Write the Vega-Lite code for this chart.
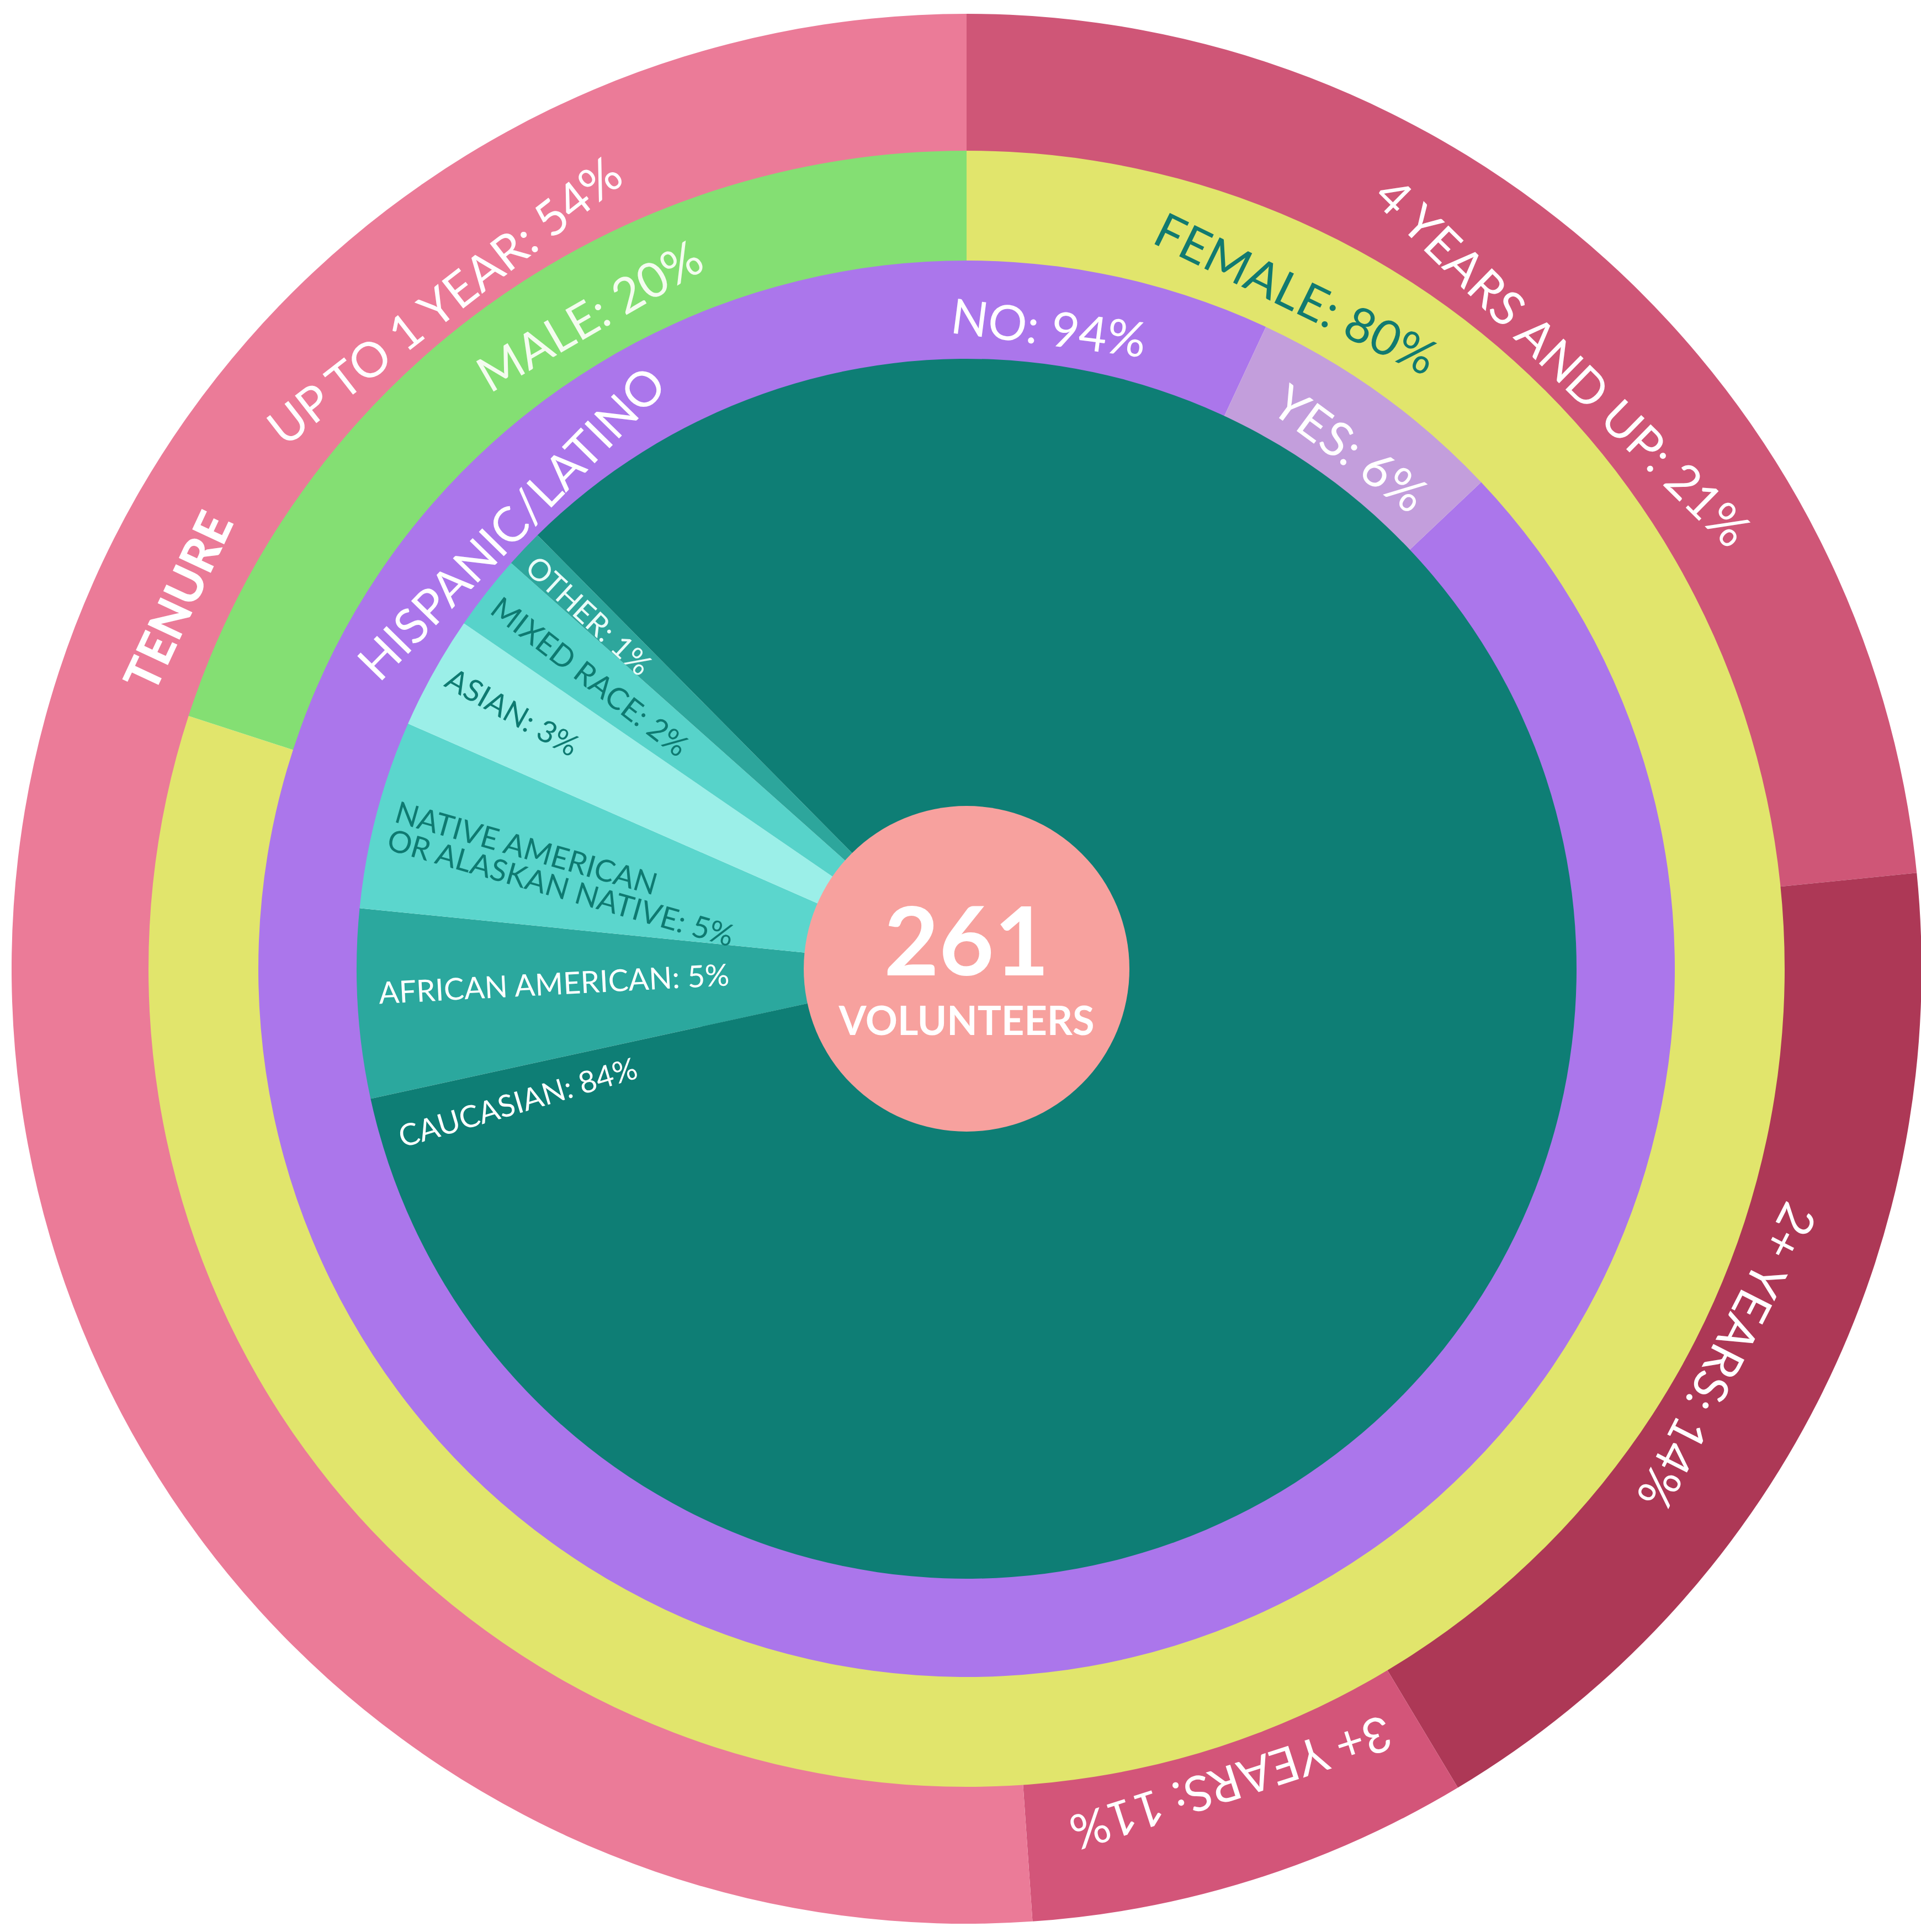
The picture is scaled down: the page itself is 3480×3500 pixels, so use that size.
{
  "$schema": "https://vega.github.io/schema/vega-lite/v6.json",
  "width": 3480,
  "height": 3500,
  "autosize": {"type": "fit", "contains": "padding"},
  "padding": {"left": 22, "top": 10, "right": 0, "bottom": 0},
  "background": "white",
  "config": {
    "view": {"stroke": null},
    "text": {"font": "Lato", "fontSize": 88, "fill": "white", "baseline": "middle", "align": "center"}
  },
  "datasets": {
    "tenure": [
      {"tenure": "4 YEARS AND UP", "pct": 21, "arc_share": 23.4, "seq": 1, "label": "4 YEARS AND UP: 21%"},
      {"tenure": "2+ YEARS", "pct": 14, "arc_share": 18.0, "seq": 2, "label": "2+ YEARS: 14%"},
      {"tenure": "3+ YEARS", "pct": 11, "arc_share": 7.5, "seq": 3, "label": "3+ YEARS: 11%"},
      {"tenure": "UP TO 1 YEAR", "pct": 54, "arc_share": 51.1, "seq": 4, "label": "UP TO 1 YEAR: 54%"}
    ],
    "gender": [
      {"gender": "FEMALE", "pct": 80, "seq": 1, "label": "FEMALE: 80%"},
      {"gender": "MALE", "pct": 20, "seq": 2, "label": "MALE: 20%"}
    ],
    "hispanic": [
      {"answer": "NO", "pct": 94, "seq": 1, "label": "NO: 94%"},
      {"answer": "YES", "pct": 6, "seq": 2, "label": "YES: 6%"}
    ],
    "race": [
      {"race": "AFRICAN AMERICAN", "pct": 5, "seq": 1, "label": "AFRICAN AMERICAN: 5%"},
      {"race": "NATIVE AMERICAN OR ALASKAN NATIVE", "pct": 5, "seq": 2, "label": "NATIVE AMERICAN\nOR ALASKAN NATIVE: 5%"},
      {"race": "ASIAN", "pct": 3, "seq": 3, "label": "ASIAN: 3%"},
      {"race": "MIXED RACE", "pct": 2, "seq": 4, "label": "MIXED RACE: 2%"},
      {"race": "OTHER", "pct": 1, "seq": 5, "label": "OTHER: 1%"},
      {"race": "CAUCASIAN", "pct": 84, "seq": 6, "label": "CAUCASIAN: 84%"}
    ],
    "total": [{"volunteers": 261, "unit": "VOLUNTEERS"}],
    "titles": [
      {"ring": "tenure", "title": "TENURE"},
      {"ring": "hispanic", "title": "HISPANIC/LATINO"}
    ]
  },
  "layer": [
    {
      "data": {"name": "tenure"},
      "mark": {"type": "arc", "radius": 1730, "innerRadius": 1481},
      "encoding": {
        "theta": {"field": "arc_share", "type": "quantitative", "stack": true, "scale": {"domain": [0, 100], "range": [0, 6.283185307179586]}},
        "order": {"field": "seq"},
        "color": {"field": "tenure", "type": "nominal", "legend": null,
          "scale": {"domain": ["4 YEARS AND UP", "2+ YEARS", "3+ YEARS", "UP TO 1 YEAR"], "range": ["#CF5677", "#AD3856", "#D35579", "#EB7B98"]}}
      }
    },
    {
      "data": {"name": "gender"},
      "mark": {"type": "arc", "radius": 1482, "innerRadius": 1282},
      "encoding": {
        "theta": {"field": "pct", "type": "quantitative", "stack": true, "scale": {"domain": [0, 100], "range": [0, 6.283185307179586]}},
        "order": {"field": "seq"},
        "color": {"field": "gender", "type": "nominal", "legend": null,
          "scale": {"domain": ["FEMALE", "MALE"], "range": ["#E1E56C", "#84DF73"]}}
      }
    },
    {
      "data": {"name": "hispanic"},
      "mark": {"type": "arc", "radius": 1283, "innerRadius": 1104},
      "encoding": {
        "theta": {"field": "pct", "type": "quantitative", "stack": true, "scale": {"domain": [0, 100], "range": [0.8133, 7.0965]}},
        "order": {"field": "seq"},
        "color": {"field": "answer", "type": "nominal", "legend": null,
          "scale": {"domain": ["NO", "YES"], "range": ["#AB76EB", "#C39EDC"]}}
      }
    },
    {
      "data": {"name": "race"},
      "mark": {"type": "arc", "radius": 1105, "innerRadius": 0},
      "encoding": {
        "theta": {"field": "pct", "type": "quantitative", "stack": true, "scale": {"domain": [0, 100], "range": [4.4977, 10.7809]}},
        "order": {"field": "seq"},
        "color": {"field": "race", "type": "nominal", "legend": null,
          "scale": {"domain": ["AFRICAN AMERICAN", "NATIVE AMERICAN OR ALASKAN NATIVE", "ASIAN", "MIXED RACE", "OTHER", "CAUCASIAN"],
                    "range": ["#2BA89E", "#5BD6CD", "#9BEFE8", "#57D3CA", "#2DA69C", "#0E7E75"]}}
      }
    },
    {
      "data": {"name": "total"},
      "mark": {"type": "arc", "radius": 295, "innerRadius": 0, "color": "#F7A19E"},
      "encoding": {
        "theta": {"field": "volunteers", "type": "quantitative", "stack": true}
      }
    },
    {
      "data": {"name": "total"},
      "mark": {"type": "text", "fontSize": 172, "fontWeight": "bold", "baseline": "alphabetic", "dy": 12},
      "encoding": {"text": {"field": "volunteers", "type": "quantitative"}}
    },
    {
      "data": {"name": "total"},
      "mark": {"type": "text", "fontSize": 72, "fontWeight": "bold", "baseline": "alphabetic", "dy": 120},
      "encoding": {"text": {"field": "unit"}}
    },
    {
      "data": {"name": "tenure"},
      "transform": [{"filter": "datum.tenure === '4 YEARS AND UP'"}],
      "mark": {"type": "text", "radius": 1535, "angle": 44.5},
      "encoding": {"theta": {"datum": 44.5, "type": "quantitative", "scale": {"domain": [0, 360], "range": [0, 6.283185307179586]}}, "text": {"field": "label"}}
    },
    {
      "data": {"name": "tenure"},
      "transform": [{"filter": "datum.tenure === '2+ YEARS'"}],
      "mark": {"type": "text", "radius": 1540, "angle": 117},
      "encoding": {"theta": {"datum": 117, "type": "quantitative", "scale": {"domain": [0, 360], "range": [0, 6.283185307179586]}}, "text": {"field": "label"}}
    },
    {
      "data": {"name": "tenure"},
      "transform": [{"filter": "datum.tenure === '3+ YEARS'"}],
      "mark": {"type": "text", "radius": 1545, "angle": 162},
      "encoding": {"theta": {"datum": 162, "type": "quantitative", "scale": {"domain": [0, 360], "range": [0, 6.283185307179586]}}, "text": {"field": "label"}}
    },
    {
      "data": {"name": "tenure"},
      "transform": [{"filter": "datum.tenure === 'UP TO 1 YEAR'"}],
      "mark": {"type": "text", "radius": 1530, "angle": -38},
      "encoding": {"theta": {"datum": 322, "type": "quantitative", "scale": {"domain": [0, 360], "range": [0, 6.283185307179586]}}, "text": {"field": "label"}}
    },
    {
      "data": {"name": "titles"},
      "transform": [{"filter": "datum.ring === 'tenure'"}],
      "mark": {"type": "text", "radius": 1570, "angle": -65, "fontWeight": 900, "fontSize": 88},
      "encoding": {"theta": {"datum": 295, "type": "quantitative", "scale": {"domain": [0, 360], "range": [0, 6.283185307179586]}}, "text": {"field": "title"}}
    },
    {
      "data": {"name": "gender"},
      "transform": [{"filter": "datum.gender === 'FEMALE'"}],
      "mark": {"type": "text", "radius": 1355, "angle": 26, "fill": "#117A70"},
      "encoding": {"theta": {"datum": 26, "type": "quantitative", "scale": {"domain": [0, 360], "range": [0, 6.283185307179586]}}, "text": {"field": "label"}}
    },
    {
      "data": {"name": "gender"},
      "transform": [{"filter": "datum.gender === 'MALE'"}],
      "mark": {"type": "text", "radius": 1360, "angle": -30, "fill": "#F4FCEF"},
      "encoding": {"theta": {"datum": 330, "type": "quantitative", "scale": {"domain": [0, 360], "range": [0, 6.283185307179586]}}, "text": {"field": "label"}}
    },
    {
      "data": {"name": "hispanic"},
      "transform": [{"filter": "datum.answer === 'NO'"}],
      "mark": {"type": "text", "radius": 1165, "angle": 7.3},
      "encoding": {"theta": {"datum": 7.3, "type": "quantitative", "scale": {"domain": [0, 360], "range": [0, 6.283185307179586]}}, "text": {"field": "label"}}
    },
    {
      "data": {"name": "hispanic"},
      "transform": [{"filter": "datum.answer === 'YES'"}],
      "mark": {"type": "text", "radius": 1165, "angle": 36.4},
      "encoding": {"theta": {"datum": 36.4, "type": "quantitative", "scale": {"domain": [0, 360], "range": [0, 6.283185307179586]}}, "text": {"field": "label"}}
    },
    {
      "data": {"name": "titles"},
      "transform": [{"filter": "datum.ring === 'hispanic'"}],
      "mark": {"type": "text", "radius": 1148, "angle": -45.6},
      "encoding": {"theta": {"datum": 314.4, "type": "quantitative", "scale": {"domain": [0, 360], "range": [0, 6.283185307179586]}}, "text": {"field": "title"}}
    },
    {
      "data": {"name": "race"},
      "transform": [{"filter": "datum.race === 'OTHER'"}],
      "mark": {"type": "text", "radius": 1080, "angle": 42.9, "align": "left", "fontSize": 55, "fill": "#E9FBF8"},
      "encoding": {"theta": {"datum": 312.9, "type": "quantitative", "scale": {"domain": [0, 360], "range": [0, 6.283185307179586]}}, "text": {"field": "label"}}
    },
    {
      "data": {"name": "race"},
      "transform": [{"filter": "datum.race === 'MIXED RACE'"}],
      "mark": {"type": "text", "radius": 1080, "angle": 37.6, "align": "left", "fontSize": 55, "fill": "#0E7A71"},
      "encoding": {"theta": {"datum": 307.6, "type": "quantitative", "scale": {"domain": [0, 360], "range": [0, 6.283185307179586]}}, "text": {"field": "label"}}
    },
    {
      "data": {"name": "race"},
      "transform": [{"filter": "datum.race === 'ASIAN'"}],
      "mark": {"type": "text", "radius": 1078, "angle": 29.3, "align": "left", "fontSize": 55, "fill": "#0E7A71"},
      "encoding": {"theta": {"datum": 299.3, "type": "quantitative", "scale": {"domain": [0, 360], "range": [0, 6.283185307179586]}}, "text": {"field": "label"}}
    },
    {
      "data": {"name": "race"},
      "transform": [{"filter": "datum.race === 'NATIVE AMERICAN OR ALASKAN NATIVE'"}],
      "mark": {"type": "text", "radius": 1072, "angle": 15.8, "align": "left", "fontSize": 55, "fill": "#0E7A71", "lineBreak": "\n", "lineHeight": 52},
      "encoding": {"theta": {"datum": 285.3, "type": "quantitative", "scale": {"domain": [0, 360], "range": [0, 6.283185307179586]}}, "text": {"field": "label"}}
    },
    {
      "data": {"name": "race"},
      "transform": [{"filter": "datum.race === 'AFRICAN AMERICAN'"}],
      "mark": {"type": "text", "radius": 1066, "angle": -3, "align": "left", "fontSize": 55},
      "encoding": {"theta": {"datum": 267.5, "type": "quantitative", "scale": {"domain": [0, 360], "range": [0, 6.283185307179586]}}, "text": {"field": "label"}}
    },
    {
      "data": {"name": "race"},
      "transform": [{"filter": "datum.race === 'CAUCASIAN'"}],
      "mark": {"type": "text", "radius": 1072, "angle": -16.5, "align": "left", "fontSize": 55},
      "encoding": {"theta": {"datum": 253.3, "type": "quantitative", "scale": {"domain": [0, 360], "range": [0, 6.283185307179586]}}, "text": {"field": "label"}}
    }
  ],
  "resolve": {"scale": {"theta": "independent", "color": "independent"}}
}
